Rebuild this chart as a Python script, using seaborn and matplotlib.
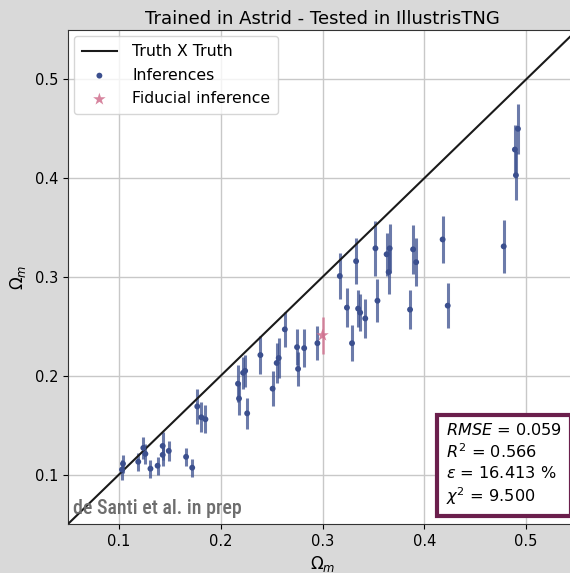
import matplotlib
matplotlib.use("Agg")
import matplotlib.pyplot as plt
import seaborn as sns
import numpy as np
import pandas as pd

# ---- data ----
true_om = [0.103, 0.104, 0.119, 0.124, 0.126, 0.131, 0.138, 0.143, 0.143, 0.149,
           0.166, 0.172, 0.177, 0.181, 0.185, 0.217, 0.218, 0.222, 0.224, 0.226,
           0.239, 0.251, 0.255, 0.257, 0.263, 0.275, 0.276, 0.282, 0.295, 0.317,
           0.324, 0.329, 0.333, 0.335, 0.337, 0.342, 0.352, 0.354, 0.363, 0.366,
           0.365, 0.386, 0.389, 0.392, 0.418, 0.423, 0.478, 0.489, 0.490, 0.492]
pred_om = [0.105, 0.111, 0.113, 0.127, 0.121, 0.106, 0.109, 0.129, 0.120, 0.124,
           0.118, 0.107, 0.169, 0.158, 0.156, 0.192, 0.177, 0.203, 0.205, 0.162,
           0.221, 0.187, 0.213, 0.218, 0.247, 0.229, 0.207, 0.228, 0.233, 0.301,
           0.269, 0.233, 0.316, 0.268, 0.264, 0.258, 0.329, 0.276, 0.323, 0.329,
           0.305, 0.267, 0.328, 0.315, 0.338, 0.271, 0.331, 0.429, 0.403, 0.450]
pred_err = [0.010, 0.009, 0.009, 0.011, 0.010, 0.009, 0.009, 0.014, 0.011, 0.010,
            0.009, 0.009, 0.0175, 0.015, 0.014, 0.019, 0.017, 0.016, 0.016, 0.016,
            0.019, 0.018, 0.020, 0.020, 0.018, 0.0185, 0.017, 0.0195, 0.017, 0.023,
            0.020, 0.018, 0.023, 0.019, 0.019, 0.020, 0.028, 0.022, 0.022, 0.025,
            0.022, 0.020, 0.025, 0.024, 0.024, 0.023, 0.027, 0.025, 0.025, 0.025]
fid_true = [0.300]
fid_pred = [0.241]
fid_err = [0.019]

title = "Trained in Astrid - Tested in IllustrisTNG"
stats_text = ("$RMSE$ = 0.059\n$R^2$ = 0.566\n"
              "$\\epsilon$ = 16.413 %\n$\\chi^2$ = 9.500")
lims = [0.05, 0.55]

df = pd.DataFrame({"true": true_om, "pred": pred_om, "err": pred_err})
dff = pd.DataFrame({"true": fid_true, "pred": fid_pred, "err": fid_err})
diag = pd.DataFrame({"x": lims, "y": lims})

plt.rcParams.update({"font.family": ["DejaVu Sans"]})
fig = plt.figure(figsize=(5.70, 5.73), dpi=100, facecolor="#d9d9d9")
ax = fig.add_axes([68 / 570, 49 / 573, 509 / 570, 494 / 573])
ax.set_facecolor("white")

blue = "#3b4f8e"
pink = "#d0708e"

sns.lineplot(data=diag, x="x", y="y", color="#1a1a1a", lw=1.5, ax=ax,
             label="Truth X Truth", zorder=3)
ax.errorbar(df["true"], df["pred"], yerr=df["err"], fmt="none",
            ecolor=blue, elinewidth=2.2, alpha=0.75, zorder=2)
sns.scatterplot(data=df, x="true", y="pred", color=blue, s=18,
                edgecolor="none", ax=ax, label="Inferences", zorder=4)
ax.errorbar(dff["true"], dff["pred"], yerr=dff["err"], fmt="none",
            ecolor=pink, elinewidth=1.8, alpha=0.8, zorder=2)
sns.scatterplot(data=dff, x="true", y="pred", color=pink, marker="*", s=90,
                edgecolor="none", ax=ax, label="Fiducial inference", zorder=4,
                alpha=0.85)

ax.set_xlim(lims)
ax.set_ylim(lims)
ax.set_xticks([0.1, 0.2, 0.3, 0.4, 0.5])
ax.set_yticks([0.1, 0.2, 0.3, 0.4, 0.5])
ax.tick_params(labelsize=10.5)
ax.grid(True, color="#c8c8c8", lw=1)
ax.set_axisbelow(True)
for s in ax.spines.values():
    s.set_color("#333333")

ax.set_title(title, fontsize=13, pad=4)
ax.set_xlabel(r"$\Omega_m$", fontsize=12, labelpad=4)
ax.set_ylabel(r"$\Omega_m$", fontsize=12, labelpad=5)

leg = ax.legend(loc="upper left", fontsize=11.3, frameon=True, framealpha=0.8,
                borderaxespad=0.4, handletextpad=1.0, handlelength=2.2,
                labelspacing=0.55, borderpad=0.5)

ax.text(0.743, 0.206, stats_text, transform=ax.transAxes, fontsize=11.6,
        ha="left", va="top", linespacing=1.28, zorder=6,
        bbox=dict(boxstyle="square,pad=0.55", facecolor="white",
                  edgecolor="#6b1f4c", lw=3))

ax.text(0.01, 0.012, "de Santi et al. in prep", transform=ax.transAxes,
        fontsize=14.3, color="#6e6e6e", ha="left", va="bottom", zorder=6,
        fontweight="medium",
        family=["Roboto Condensed", "Liberation Sans Narrow",
                "Open Sans Condensed", "Roboto"])

fig.savefig("out.png", dpi=100, facecolor=fig.get_facecolor())
